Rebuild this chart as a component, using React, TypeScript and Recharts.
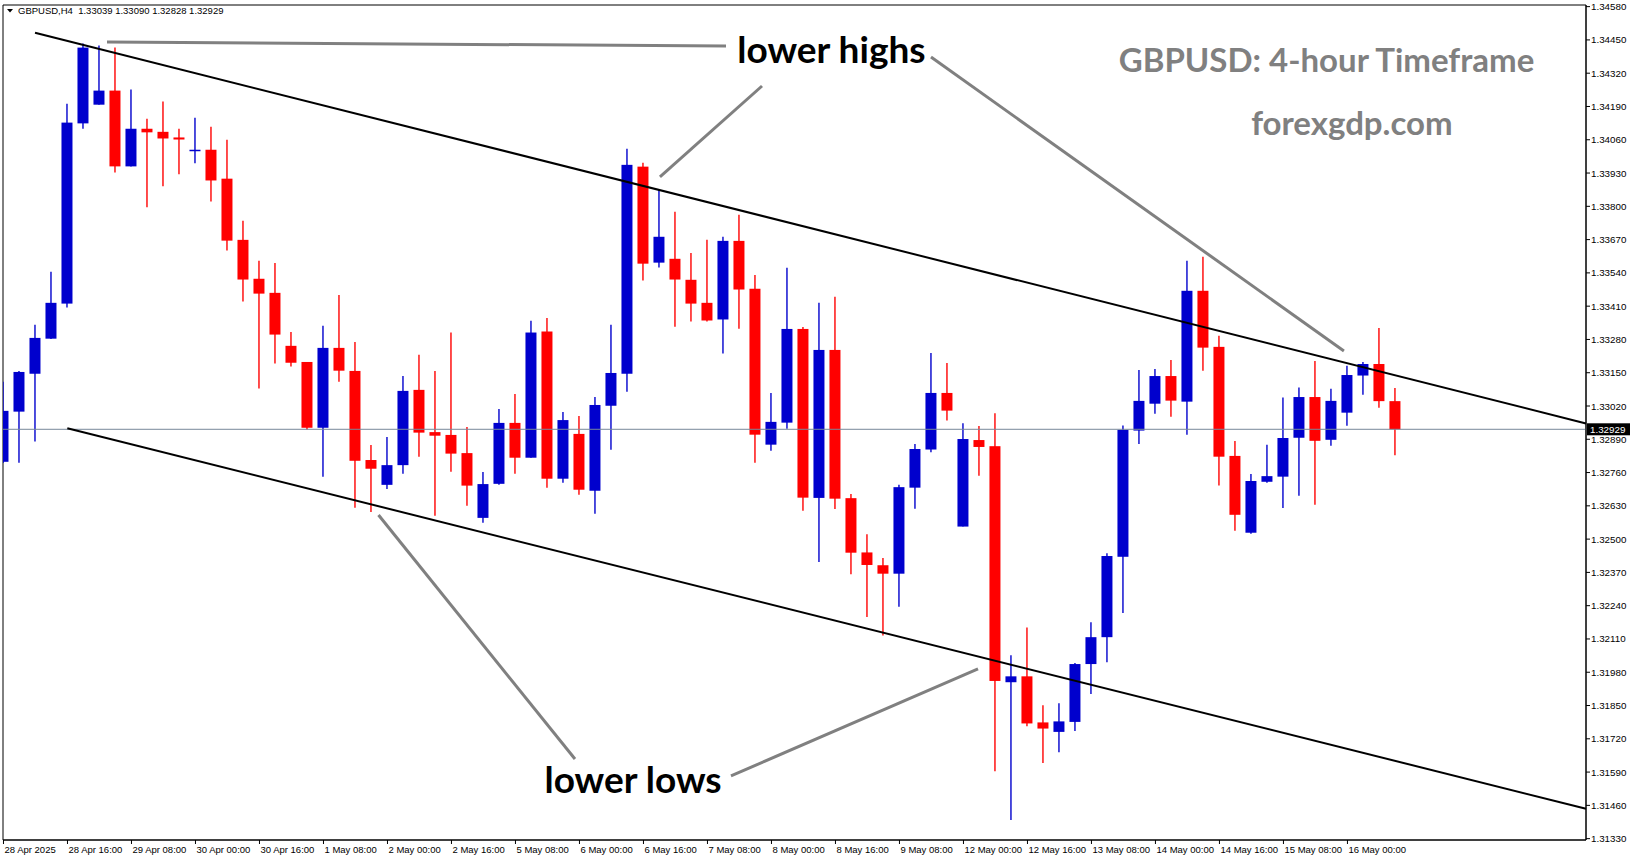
import React from 'react';
import {
  ComposedChart,
  Bar,
  XAxis,
  YAxis,
  ReferenceLine,
  ReferenceArea,
  ReferenceDot,
} from 'recharts';

// ---------- data ----------
const symbol = 'GBPUSD';
const timeframe = 'H4';

const openPrices = [
  1.32802, 1.32998, 1.33146, 1.33283, 1.3342, 1.34124, 1.34197, 1.34252, 1.33956, 1.34103,
  1.34091, 1.34069, 1.34016, 1.34021, 1.33908, 1.33669, 1.33517, 1.33462, 1.33255, 1.33192,
  1.32935, 1.33247, 1.33157, 1.32809, 1.32712, 1.32789, 1.33083, 1.32918, 1.32907, 1.32836,
  1.32583, 1.32716, 1.32954, 1.32818, 1.33311, 1.32736, 1.32911, 1.32689, 1.33021, 1.33146,
  1.33955, 1.3358, 1.33595, 1.33513, 1.33423, 1.33358, 1.33665, 1.33478, 1.32869, 1.32955,
  1.33321, 1.32661, 1.33239, 1.3266, 1.32448, 1.32398, 1.32365, 1.32701, 1.3285, 1.33071,
  1.32549, 1.32887, 1.32863, 1.31941, 1.31964, 1.31784, 1.31747, 1.31786, 1.32012, 1.32117,
  1.32431, 1.32924, 1.33029, 1.33137, 1.33037, 1.3347, 1.33251, 1.32825, 1.32525, 1.32724,
  1.32744, 1.32896, 1.33055, 1.32888, 1.32994, 1.33139, 1.33184, 1.33039,
];
const highPrices = [
  1.33115, 1.33157, 1.33337, 1.33544, 1.34201, 1.34436, 1.34428, 1.3442, 1.34256, 1.34142,
  1.34209, 1.34103, 1.34146, 1.34111, 1.3406, 1.33744, 1.33587, 1.33579, 1.33309, 1.33192,
  1.33333, 1.33454, 1.3327, 1.32868, 1.32899, 1.33137, 1.3322, 1.33157, 1.33307, 1.32938,
  1.32762, 1.33008, 1.33067, 1.33353, 1.33364, 1.32997, 1.32981, 1.33055, 1.33337, 1.34025,
  1.3397, 1.33865, 1.33779, 1.33618, 1.33669, 1.33681, 1.33767, 1.33532, 1.33071, 1.3356,
  1.33329, 1.33423, 1.33447, 1.32676, 1.32519, 1.32426, 1.32712, 1.32872, 1.33227, 1.33188,
  1.32953, 1.32942, 1.32992, 1.32046, 1.32155, 1.31851, 1.31859, 1.32016, 1.32175, 1.32445,
  1.32944, 1.33161, 1.33165, 1.332, 1.33587, 1.33603, 1.33294, 1.32883, 1.32754, 1.32869,
  1.33053, 1.33092, 1.33196, 1.33087, 1.33177, 1.33192, 1.33325, 1.3309,
];
const lowPrices = [
  1.32797, 1.32798, 1.32881, 1.33282, 1.33405, 1.34103, 1.34197, 1.33932, 1.33956, 1.33796,
  1.33878, 1.33925, 1.33968, 1.33819, 1.33627, 1.33428, 1.33088, 1.33186, 1.33174, 1.32928,
  1.32744, 1.33115, 1.32623, 1.32606, 1.32696, 1.32755, 1.32822, 1.32591, 1.32763, 1.3263,
  1.32564, 1.32712, 1.32755, 1.32818, 1.32701, 1.3272, 1.32673, 1.32599, 1.32849, 1.33076,
  1.3351, 1.33561, 1.3333, 1.3335, 1.3335, 1.33225, 1.33322, 1.32798, 1.32845, 1.32931,
  1.32611, 1.32411, 1.32618, 1.32363, 1.32196, 1.32124, 1.32236, 1.32619, 1.32839, 1.32963,
  1.32549, 1.32748, 1.31593, 1.31403, 1.31769, 1.31625, 1.31667, 1.3175, 1.31895, 1.32019,
  1.32211, 1.32872, 1.3299, 1.32978, 1.32908, 1.33158, 1.32709, 1.32533, 1.32521, 1.3272,
  1.32622, 1.32669, 1.32634, 1.32865, 1.32943, 1.33064, 1.33013, 1.32828,
];
const closePrices = [
  1.33001, 1.33153, 1.33286, 1.33423, 1.34127, 1.3442, 1.34252, 1.33956, 1.34103, 1.34089,
  1.34065, 1.34061, 1.34021, 1.33901, 1.33666, 1.33514, 1.33459, 1.33299, 1.33189, 1.32935,
  1.33247, 1.33158, 1.32806, 1.32775, 1.32789, 1.33079, 1.32916, 1.32904, 1.32834, 1.32709,
  1.32715, 1.32954, 1.32818, 1.33307, 1.32736, 1.32965, 1.32693, 1.33024, 1.33149, 1.33962,
  1.33576, 1.33681, 1.33514, 1.3342, 1.33354, 1.33665, 1.33475, 1.32908, 1.32958, 1.33321,
  1.32662, 1.33239, 1.32658, 1.32447, 1.32399, 1.32365, 1.32703, 1.32852, 1.33071, 1.33002,
  1.32891, 1.3286, 1.31946, 1.31964, 1.3178, 1.3176, 1.31788, 1.32012, 1.32117, 1.32434,
  1.32927, 1.3304, 1.33137, 1.33041, 1.3347, 1.33248, 1.32822, 1.32595, 1.32727, 1.32746,
  1.32895, 1.33055, 1.32884, 1.3304, 1.33141, 1.33184, 1.33039, 1.32929,
];

const timeTickIndex = [0, 4, 8, 12, 16, 20, 24, 28, 32, 36, 40, 44, 48, 52, 56, 60, 64, 68, 72, 76, 80, 84];
const timeTickLabels = [
  '28 Apr 2025', '28 Apr 16:00', '29 Apr 08:00', '30 Apr 00:00', '30 Apr 16:00', '1 May 08:00',
  '2 May 00:00', '2 May 16:00', '5 May 08:00', '6 May 00:00', '6 May 16:00', '7 May 08:00',
  '8 May 00:00', '8 May 16:00', '9 May 08:00', '12 May 00:00', '12 May 16:00', '13 May 08:00',
  '14 May 00:00', '14 May 16:00', '15 May 08:00', '16 May 00:00',
];

const priceTickValues = [
  1.3458, 1.3445, 1.3432, 1.3419, 1.3406, 1.3393, 1.338, 1.3367, 1.3354, 1.3341, 1.3328, 1.3315,
  1.3302, 1.3289, 1.3276, 1.3263, 1.325, 1.3237, 1.3224, 1.3211, 1.3198, 1.3185, 1.3172, 1.3159,
  1.3146, 1.3133,
];

const lastPrice = closePrices[closePrices.length - 1];

// channel lines (bar index, price)
const upperChannel = [
  { x: 1.97, y: 1.34478 },
  { x: 98.91, y: 1.32952 },
];
const lowerChannel = [
  { x: 3.99, y: 1.32933 },
  { x: 98.91, y: 1.31447 },
];

// grey pointer lines (bar index, price)
const pointerLines = [
  [{ x: 6.47, y: 1.34442 }, { x: 45.16, y: 1.34426 }],
  [{ x: 41.03, y: 1.33915 }, { x: 47.41, y: 1.3427 }],
  [{ x: 57.97, y: 1.34383 }, { x: 83.78, y: 1.33235 }],
  [{ x: 23.44, y: 1.32594 }, { x: 35.72, y: 1.31641 }],
  [{ x: 45.47, y: 1.31575 }, { x: 60.91, y: 1.31993 }],
];

const X_DOMAIN: [number, number] = [-0.03, 98.91];
const Y_DOMAIN: [number, number] = [1.313247, 1.345864];

const candles = openPrices.map((o, i) => ({
  i,
  o,
  h: highPrices[i],
  l: lowPrices[i],
  c: closePrices[i],
  range: [lowPrices[i], highPrices[i]],
}));

// ---------- styles ----------
const BULL = '#0000CD';
const BEAR = '#FF0000';
const AXIS_FONT = '"Liberation Sans", Arial, sans-serif';
const ANNOT_FONT = 'Lato, "Open Sans", sans-serif';

const Candle = (props: any) => {
  const { x, y, width, height, payload } = props;
  if (!payload || x == null || y == null) return null;
  const { o, h, l, c } = payload;
  const cx = x + width / 2;
  const top = Math.min(y, y + height);
  const bottom = Math.max(y, y + height);
  const ppu = h > l ? (bottom - top) / (h - l) : 0;
  const yOf = (v: number) => top + (h - v) * ppu;
  const color = c >= o ? BULL : BEAR;
  const bt = yOf(Math.max(o, c));
  const bb = yOf(Math.min(o, c));
  return (
    <g>
      <line x1={cx} x2={cx} y1={top} y2={bottom} stroke={color} strokeWidth={1.4} />
      <rect x={cx - 5.5} y={bt} width={11} height={Math.max(bb - bt, 1.5)} fill={color} />
    </g>
  );
};

const TimeTick = (props: any) => {
  const { x, y, payload } = props;
  const idx = timeTickIndex.indexOf(payload.value);
  return (
    <g>
      <line x1={x} x2={x} y1={y} y2={y + 4} stroke="#000" strokeWidth={1} />
      <text x={x + 1} y={y + 13} fontSize={9.5} fontFamily={AXIS_FONT} fill="#000">
        {idx >= 0 ? timeTickLabels[idx] : ''}
      </text>
    </g>
  );
};

const PriceTick = (props: any) => {
  const { x, y, payload } = props;
  const v = payload.value as number;
  if (v === lastPrice) {
    return (
      <g>
        <rect x={x + 1} y={y - 6} width={43} height={12} fill="#000" />
        <text x={x + 4} y={y + 3.5} fontSize={9.8} fontFamily={AXIS_FONT} fill="#fff">
          {v.toFixed(5)}
        </text>
      </g>
    );
  }
  return (
    <g>
      <line x1={x} x2={x + 4} y1={y} y2={y} stroke="#000" strokeWidth={1} />
      <text x={x + 5} y={y + 3.5} fontSize={9.8} fontFamily={AXIS_FONT} fill="#000">
        {v.toFixed(5)}
      </text>
    </g>
  );
};

const makeText = (text: string, size: number, color: string) => (p: any) => {
  const vb = p.viewBox || {};
  const cx = (vb.x ?? 0) + (vb.width ?? 0) / 2;
  const cy = (vb.y ?? 0) + (vb.height ?? 0) / 2;
  return (
    <text x={cx} y={cy} textAnchor="middle" fontSize={size} fontWeight={700} fontFamily={ANNOT_FONT} fill={color}>
      {text}
    </text>
  );
};

export default function App() {
  const n = openPrices.length - 1;
  const header = `${symbol},${timeframe}  ${openPrices[n].toFixed(5)} ${highPrices[n].toFixed(5)} ${lowPrices[n].toFixed(5)} ${closePrices[n].toFixed(5)}`;
  return (
    <div style={{ position: 'absolute', left: 0, top: 0, width: 1631, height: 861, background: '#fff' }}>
      <ComposedChart
        width={1631}
        height={861}
        data={candles}
        margin={{ top: 5, right: 0, bottom: 0, left: 3 }}
      >
        <XAxis
          type="number"
          dataKey="i"
          domain={X_DOMAIN}
          allowDataOverflow
          ticks={timeTickIndex}
          interval={0}
          tickSize={0}
          tickMargin={0}
          height={21}
          axisLine={{ stroke: '#000' }}
          tickLine={false}
          tick={(p: any) => <TimeTick {...p} />}
        />
        <YAxis
          type="number"
          orientation="right"
          domain={Y_DOMAIN}
          allowDataOverflow
          ticks={[...priceTickValues, lastPrice]}
          interval={0}
          tickSize={0}
          tickMargin={0}
          width={45}
          axisLine={{ stroke: '#000' }}
          tickLine={false}
          tick={(p: any) => <PriceTick {...p} />}
        />
        <ReferenceArea
          x1={X_DOMAIN[0]}
          x2={X_DOMAIN[1]}
          y1={Y_DOMAIN[0]}
          y2={Y_DOMAIN[1]}
          fill="none"
          fillOpacity={0}
          stroke="#000"
          strokeWidth={1}
        />
        <ReferenceLine y={lastPrice} stroke="#778899" strokeWidth={1} />
        <Bar dataKey="range" barSize={11} isAnimationActive={false} shape={(p: any) => <Candle {...p} />} />
        <ReferenceLine segment={upperChannel} stroke="#000" strokeWidth={2} ifOverflow="visible" />
        <ReferenceLine segment={lowerChannel} stroke="#000" strokeWidth={2} ifOverflow="visible" />
        {pointerLines.map((seg, i) => (
          <ReferenceLine key={i} segment={seg} stroke="#808080" strokeWidth={3} ifOverflow="visible" />
        ))}
        <ReferenceDot x={51.75} y={1.34361} r={1} fill="none" stroke="none" label={{ content: makeText('lower highs', 37, '#000') }} />
        <ReferenceDot x={39.35} y={1.31509} r={1} fill="none" stroke="none" label={{ content: makeText('lower lows', 37, '#000') }} />
        <ReferenceDot x={82.69} y={1.34326} r={1} fill="none" stroke="none" label={{ content: makeText('GBPUSD: 4-hour Timeframe', 33, '#808080') }} />
        <ReferenceDot x={84.28} y={1.34079} r={1} fill="none" stroke="none" label={{ content: makeText('forexgdp.com', 33, '#808080') }} />
      </ComposedChart>
      <svg width={300} height={20} style={{ position: 'absolute', left: 0, top: 0 }}>
        <polygon points="7,9 13,9 10,12.5" fill="#000" />
        <text x={18} y={14} fontSize={9.5} fontFamily={AXIS_FONT} fill="#000" xmlSpace="preserve">
          {header}
        </text>
      </svg>
    </div>
  );
}
